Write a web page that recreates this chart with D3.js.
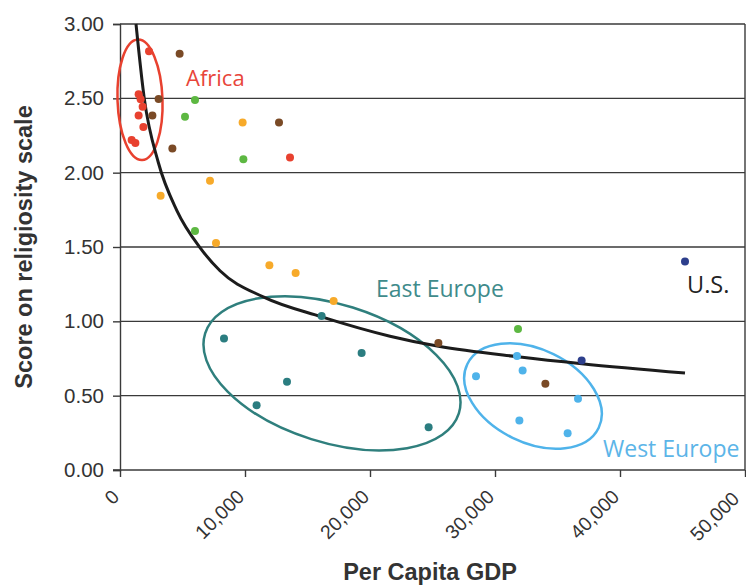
<!DOCTYPE html>
<html>
<head>
<meta charset="utf-8">
<script src="https://cdn.jsdelivr.net/npm/d3@7"></script>
<style>
  html, body { margin: 0; padding: 0; background: #fff; }
  svg { display: block; }
</style>
</head>
<body>
<svg id="chart" width="746" height="585"></svg>
<script>
// ---------- DATA ----------
const redGDP      = [2320, 1490, 1650, 1810, 1490, 1870, 930, 1230, 13600];
const redScore    = [2.816, 2.527, 2.493, 2.443, 2.385, 2.308, 2.219, 2.200, 2.102];
const brownGDP    = [4770, 3090, 2590, 12720, 4190, 25470, 34030];
const brownScore  = [2.800, 2.495, 2.385, 2.338, 2.163, 0.854, 0.580];
const greenGDP    = [6000, 5200, 9870, 6000, 31840];
const greenScore  = [2.488, 2.376, 2.091, 1.608, 0.948];
const orangeGDP   = [9810, 7200, 3250, 7680, 11950, 14050, 17090];
const orangeScore = [2.338, 1.945, 1.844, 1.527, 1.377, 1.325, 1.137];
const tealGDP     = [16130, 8320, 19330, 13360, 10930, 24690];
const tealScore   = [1.036, 0.884, 0.787, 0.594, 0.436, 0.288];
const lightGDP    = [31760, 32210, 28480, 36640, 31950, 35810];
const lightScore  = [0.766, 0.670, 0.630, 0.479, 0.333, 0.248];
const navyGDP     = [45200, 36930];
const navyScore   = [1.402, 0.737];

// trend curve
const trendGDP   = [1280, 1940, 3060, 4540, 6400, 8000, 11460, 16140, 21600, 25480, 32000, 36940, 45200];
const trendScore = [3.00, 2.50, 2.07, 1.747, 1.496, 1.34, 1.164, 1.03, 0.90, 0.832, 0.76, 0.715, 0.652];

const xTicks = [0, 10000, 20000, 30000, 40000, 50000];
const yTicks = [0, 0.5, 1.0, 1.5, 2.0, 2.5, 3.0];

// region annotations (centre in data units)
const regionNames = ["Africa", "East Europe", "West Europe"];
const regionGDP   = [1600, 16960, 33040];
const regionScore = [2.49, 0.65, 0.498];

const xTitle = "Per Capita GDP";
const yTitle = "Score on religiosity scale";

// ---------- STYLE ----------
const colors = {
  red: "#e8412f", brown: "#7a4a26", green: "#5db842", orange: "#f7aa2a",
  teal: "#2b7d80", light: "#4fb3ea", navy: "#2d3f8c"
};
const series = [
  { gdp: redGDP, score: redScore, color: colors.red },
  { gdp: brownGDP, score: brownScore, color: colors.brown },
  { gdp: greenGDP, score: greenScore, color: colors.green },
  { gdp: orangeGDP, score: orangeScore, color: colors.orange },
  { gdp: tealGDP, score: tealScore, color: colors.teal },
  { gdp: lightGDP, score: lightScore, color: colors.light },
  { gdp: navyGDP, score: navyScore, color: colors.navy }
];

const svg = d3.select("#chart");
const mLeft = 120, mRight = 745, mTop = 24, mBottom = 470;

const x = d3.scaleLinear().domain([0, 50000]).range([mLeft, mRight]);
const y = d3.scaleLinear().domain([0, 3]).range([mBottom, mTop]);

const numFont = "'Liberation Sans', Arial, Helvetica, sans-serif";
const labFont = "'Open Sans', 'Noto Sans', sans-serif";

// gridlines
svg.append("g")
  .selectAll("line").data(yTicks.filter(d => d > 0)).join("line")
  .attr("x1", mLeft).attr("x2", mRight)
  .attr("y1", d => y(d)).attr("y2", d => y(d))
  .attr("stroke", "#3a3a3a").attr("stroke-width", 1.4);

// right border
svg.append("line")
  .attr("x1", mRight).attr("x2", mRight).attr("y1", y(3)).attr("y2", y(0))
  .attr("stroke", "#3a3a3a").attr("stroke-width", 1.4);

// y axis
const yAxis = svg.append("g")
  .attr("transform", `translate(${mLeft},0)`)
  .call(d3.axisLeft(y).tickValues(yTicks).tickFormat(d3.format(".2f")).tickSize(7).tickPadding(9));
yAxis.select(".domain").attr("stroke", "#3a3a3a").attr("stroke-width", 1.4);
yAxis.selectAll(".tick line").attr("stroke", "#3a3a3a").attr("stroke-width", 1.4);
yAxis.selectAll(".tick text")
  .attr("font-family", numFont).attr("font-size", 20.5).attr("fill", "#333");

// x axis
const xAxis = svg.append("g")
  .attr("transform", `translate(0,${mBottom})`)
  .call(d3.axisBottom(x).tickValues(xTicks).tickFormat(d => d === 0 ? "0" : d3.format(",")(d)).tickSize(7).tickSizeOuter(0));
xAxis.select(".domain").attr("stroke", "#3a3a3a").attr("stroke-width", 1.4)
  .attr("d", `M${mLeft - 7},0H${mRight}`);
xAxis.selectAll(".tick line").attr("stroke", "#3a3a3a").attr("stroke-width", 1.4);
xAxis.selectAll(".tick text")
  .attr("font-family", numFont).attr("font-size", 19.5).attr("fill", "#333")
  .attr("text-anchor", "end")
  .attr("y", 0).attr("dy", 0)
  .attr("transform", (d, i, n) => `translate(${i === n.length - 1 ? -5 : 0},${i === n.length - 1 ? 30 : 28}) rotate(-45)`);

// axis titles
svg.append("text")
  .attr("transform", `translate(32,${(mTop + mBottom) / 2}) rotate(-90)`)
  .attr("text-anchor", "middle")
  .attr("font-family", numFont).attr("font-weight", "bold").attr("font-size", 23.5)
  .attr("fill", "#333")
  .text(yTitle);

svg.append("text")
  .attr("x", 430).attr("y", 580)
  .attr("text-anchor", "middle")
  .attr("font-family", numFont).attr("font-weight", "bold").attr("font-size", 23.5)
  .attr("fill", "#333")
  .text(xTitle);

// ellipses
const ellipseStyle = [
  { rx: 22.5, ry: 60.3, rot: -2, color: colors.red },
  { rx: 133, ry: 69, rot: 17.5, color: "#2f7f7d" },
  { rx: 73, ry: 46.6, rot: 26, color: "#4fb3ea" }
];
svg.append("g").selectAll("ellipse").data(regionNames).join("ellipse")
  .attr("transform", (d, i) => `translate(${x(regionGDP[i])},${y(regionScore[i])}) rotate(${ellipseStyle[i].rot})`)
  .attr("rx", (d, i) => ellipseStyle[i].rx)
  .attr("ry", (d, i) => ellipseStyle[i].ry)
  .attr("fill", "none")
  .attr("stroke", (d, i) => ellipseStyle[i].color)
  .attr("stroke-width", 2.5);

// trend curve
const line = d3.line().x(d => x(d[0])).y(d => y(d[1])).curve(d3.curveMonotoneX);
svg.append("path")
  .datum(trendGDP.map((g, i) => [g, trendScore[i]]))
  .attr("d", line)
  .attr("fill", "none").attr("stroke", "#1c1c1c").attr("stroke-width", 3);

// points
series.forEach(s => {
  svg.append("g").selectAll("circle").data(s.gdp.map((g, i) => [g, s.score[i]])).join("circle")
    .attr("cx", d => x(d[0])).attr("cy", d => y(d[1])).attr("r", 4)
    .attr("fill", s.color);
});

// labels
const labels = [
  { text: "Africa", x: 186, y: 86, size: 22, color: "#e8453a" },
  { text: "East Europe", x: 376, y: 297, size: 23, color: "#3f8b8b" },
  { text: "West Europe", x: 603, y: 457, size: 23, color: "#5cb5e8" },
  { text: "U.S.", x: 687, y: 293, size: 23.5, color: "#222" }
];
svg.append("g").selectAll("text").data(labels).join("text")
  .attr("x", d => d.x).attr("y", d => d.y)
  .attr("font-family", labFont).attr("font-size", d => d.size)
  .attr("fill", d => d.color)
  .text(d => d.text);
</script>
</body>
</html>
